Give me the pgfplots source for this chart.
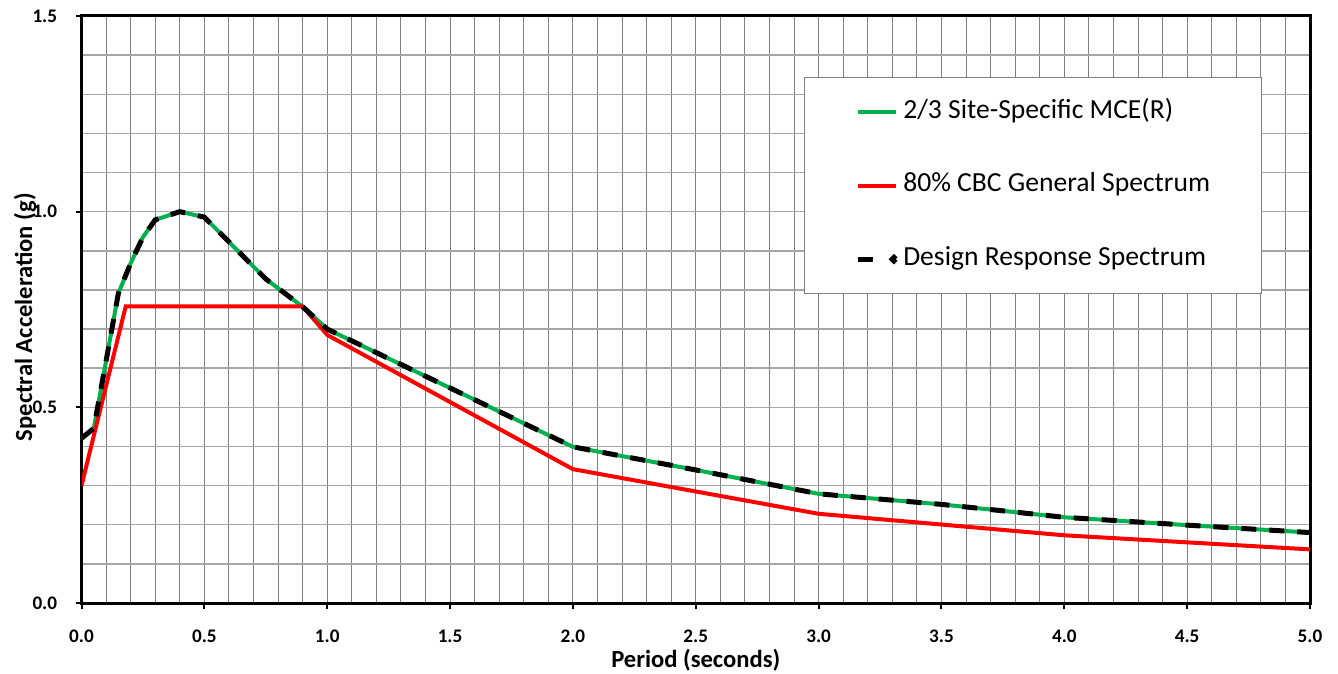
\documentclass[border=0pt]{standalone}
\usepackage{pgfplots}
\pgfplotsset{compat=1.18}
\usepackage{fontspec}
\setmainfont{Carlito}
\definecolor{mcegreen}{RGB}{0,176,80}
\definecolor{gridv}{RGB}{128,128,128}
\definecolor{gridh}{RGB}{166,166,166}
\newcommand{\tickfont}{\fontsize{9.6}{11}\selectfont\bfseries}
\begin{document}
\begin{tikzpicture}
\begin{axis}[
  scale only axis,
  width=614.25pt, height=293.5pt,
  xmin=0, xmax=5, ymin=0, ymax=1.5,
  xtick={0,0.5,...,5.01}, ytick={0,0.5,1,1.5},
  minor x tick num=4, minor y tick num=4,
  grid=both,
  x grid style={gridv, line width=0.5pt},
  y grid style={gridh, line width=0.75pt},
  axis line style={black, line width=1.5pt},
  tick pos=left, tick align=outside,
  major tick length=3pt, minor tick length=0pt,
  major tick style={black, line width=1pt},
  xticklabel={\tickfont\pgfmathprintnumber[fixed,fixed zerofill,precision=1,assume math mode=true]{\tick}},
  yticklabel={\tickfont\pgfmathprintnumber[fixed,fixed zerofill,precision=1,assume math mode=true]{\tick}},
  xticklabel style={anchor=center, inner sep=0pt, yshift=-13.5pt},
  yticklabel style={anchor=east, inner sep=0pt, xshift=-9pt},
  xlabel={Period (seconds)},
  ylabel={Spectral Acceleration (g)},
  label style={font=\bfseries\fontsize{12.3}{14}\selectfont},
  xlabel style={at={(rel axis cs:0.5,-0.0971)}, anchor=center},
  ylabel style={at={(rel axis cs:-0.046,0.487)}, anchor=center},
  legend cell align=left,
  legend style={at={(rel axis cs:0.588,0.896)}, anchor=north west,
    draw=gridv, line width=0.6pt, fill=white,
    inner xsep=25.5pt, inner ysep=10.75pt,
    nodes={inner sep=0pt, text height=9.5pt, text depth=3.5pt},
    row sep=23.75pt, column sep=2.5pt,
    font=\fontsize{13.8}{16}\selectfont},
  legend image code/.code={\draw[#1] (0pt,0pt) -- (19pt,0pt);},
]
\addplot[mcegreen, line width=2pt] coordinates {
(0.00,0.421) (0.05,0.446) (0.15,0.791) (0.20,0.868) (0.25,0.935) (0.30,0.979)
(0.40,1.000) (0.50,0.986) (0.75,0.828) (0.90,0.757) (1.00,0.700) (2.00,0.399)
(2.50,0.340) (3.00,0.279) (3.50,0.252) (4.00,0.219) (4.50,0.199) (5.00,0.180)};
\addlegendentry{2/3 Site-Specific MCE(R)}
\addplot[red, line width=2pt] coordinates {
(0.00,0.300) (0.18,0.758) (0.90,0.758) (1.00,0.685) (2.00,0.342)
(3.00,0.228) (4.00,0.173) (5.00,0.137)};
\addlegendentry{80\% CBC General Spectrum}
\addplot[black, line width=2.5pt, dash pattern=on 7.5pt off 6.5pt,
  legend image code/.code={\draw[black, line width=2.5pt] (0pt,0pt) -- (9pt,0pt);
  \fill[black] (18pt,0pt) circle (0.9pt);}] coordinates {
(0.00,0.421) (0.05,0.446) (0.15,0.791) (0.20,0.868) (0.25,0.935) (0.30,0.979)
(0.40,1.000) (0.50,0.986) (0.75,0.828) (0.90,0.757) (1.00,0.700) (2.00,0.399)
(2.50,0.340) (3.00,0.279) (3.50,0.252) (4.00,0.219) (4.50,0.199) (5.00,0.180)};
\addlegendentry{Design Response Spectrum}
\coordinate (sw) at (rel axis cs:0,0);
\coordinate (ne) at (rel axis cs:1,1);
\end{axis}
\pgfresetboundingbox
\path[use as bounding box] ([xshift=-40.75pt,yshift=-35pt]sw) rectangle ([xshift=14pt,yshift=8pt]ne);
\end{tikzpicture}
\end{document}
